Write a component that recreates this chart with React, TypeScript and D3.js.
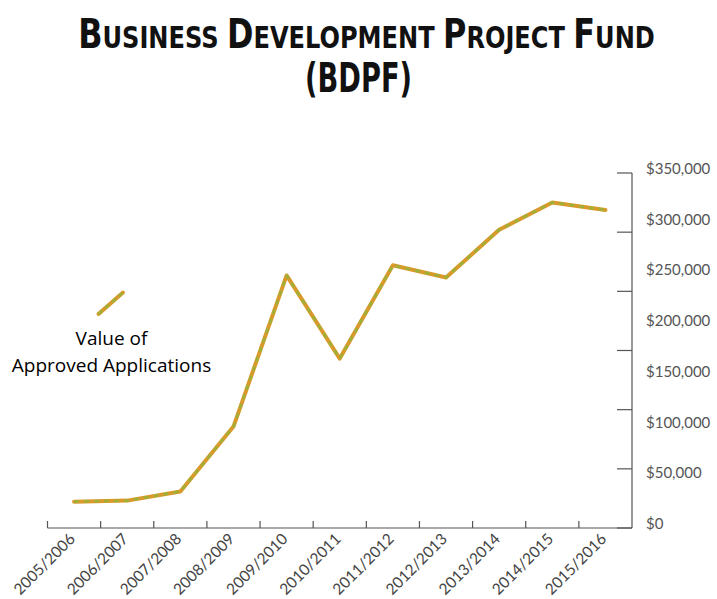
import React, { useEffect, useRef, useState } from "react";
import * as d3 from "d3";

const categories = [
  "2005/2006", "2006/2007", "2007/2008", "2008/2009", "2009/2010", "2010/2011",
  "2011/2012", "2012/2013", "2013/2014", "2014/2015", "2015/2016",
];
const approvedValues = [26000, 27000, 36000, 100000, 249000, 167000, 259000, 247000, 294000, 321000, 313500];
const yTickValues = [0, 50000, 100000, 150000, 200000, 250000, 300000, 350000];
const yTickMarkDivisions = 6;
const titleParts = [
  { t: "B", big: true }, { t: "USINESS ", big: false },
  { t: "D", big: true }, { t: "EVELOPMENT ", big: false },
  { t: "P", big: true }, { t: "ROJECT ", big: false },
  { t: "F", big: true }, { t: "UND", big: false },
];
const subtitle = "(BDPF)";
const legendLines = ["Value of", "Approved Applications"];

const W = 717, H = 599;
const plotLeft = 47.5, plotRight = 632, plotTop = 173, plotBottom = 528;

function FitText({ cx, cy, width, children, ...rest }: any) {
  const ref = useRef<SVGTextElement>(null);
  const [sx, setSx] = useState(1);
  useEffect(() => {
    if (ref.current) {
      const w = ref.current.getComputedTextLength();
      if (w > 0) setSx(width / w);
    }
  }, [width]);
  return (
    <g transform={`translate(${cx},${cy}) scale(${sx},1)`}>
      <text ref={ref} x={0} y={0} textAnchor="middle" {...rest}>{children}</text>
    </g>
  );
}

export default function App() {
  const x = d3.scaleBand<string>().domain(categories).range([plotLeft, plotRight]).padding(0);
  const y = d3.scaleLinear().domain([0, 350000]).range([plotBottom, plotTop]);
  const pts: [number, number][] = approvedValues.map((v, i) => [x(categories[i])! + x.bandwidth() / 2, y(v)]);
  const line = d3.line().curve(d3.curveLinear)(pts) || "";
  const tickMarks = d3.range(yTickMarkDivisions + 1).map((i) => y((350000 * i) / yTickMarkDivisions));
  const fmt = (v: number) => "$" + d3.format(",")(v);
  const legendPath = d3.line()([[98.5, 314], [123, 292.5]]) || "";

  return (
    <svg width={W} height={H} style={{ position: "absolute", left: 0, top: 0, background: "#fff" }}>
      {/* Title */}
      <FitText cx={366.5} cy={48} width={577} fontFamily="DejaVu Sans" fontWeight="bold" fill="#111">
        {titleParts.map((p, i) => (
          <tspan key={i} fontSize={p.big ? 41 : 31}>{p.t}</tspan>
        ))}
      </FitText>
      <FitText cx={358.5} cy={92} width={107} fontFamily="DejaVu Sans" fontWeight="bold" fontSize={41} fill="#111">
        {subtitle}
      </FitText>

      {/* X axis */}
      <line x1={plotLeft} x2={plotRight} y1={plotBottom} y2={plotBottom} stroke="#555" strokeWidth={1.2} />
      {categories.map((c) => (
        <line key={c} x1={x(c)!} x2={x(c)!} y1={plotBottom} y2={plotBottom - 7} stroke="#555" strokeWidth={1.2} />
      ))}
      {categories.map((c) => {
        const cx = x(c)! + x.bandwidth() / 2 + 2;
        return (
          <text key={c} transform={`translate(${cx},${plotBottom + 12}) rotate(-45)`} textAnchor="end"
            fontFamily="Lato" fontSize={15.5} fill="#444">{c}</text>
        );
      })}

      {/* Y axis (right) */}
      <line x1={plotRight} x2={plotRight} y1={plotTop} y2={plotBottom} stroke="#555" strokeWidth={1.2} />
      {tickMarks.map((ty, i) => (
        <line key={i} x1={plotRight - 15} x2={plotRight} y1={ty} y2={ty} stroke="#555" strokeWidth={1.2} />
      ))}
      {yTickValues.map((v) => (
        <text key={v} x={646} y={y(v) + 1} fontFamily="Lato" fontSize={15} fill="#555">{fmt(v)}</text>
      ))}

      {/* Series */}
      <path d={line} fill="none" stroke="#D99A2B" strokeWidth={4} strokeLinejoin="round" strokeLinecap="round" />
      <path d={line} fill="none" stroke="#9EB136" strokeWidth={2.6} strokeDasharray="5 5" strokeLinejoin="round" />

      {/* Legend */}
      <path d={legendPath} fill="none" stroke="#D99A2B" strokeWidth={4} strokeLinecap="round" />
      <path d={legendPath} fill="none" stroke="#9EB136" strokeWidth={2.6} strokeDasharray="5 4" />
      {legendLines.map((t, i) => (
        <text key={t} x={111.5} y={345 + i * 27} textAnchor="middle" fontFamily="Open Sans" fontSize={19} fill="#000">{t}</text>
      ))}
    </svg>
  );
}
